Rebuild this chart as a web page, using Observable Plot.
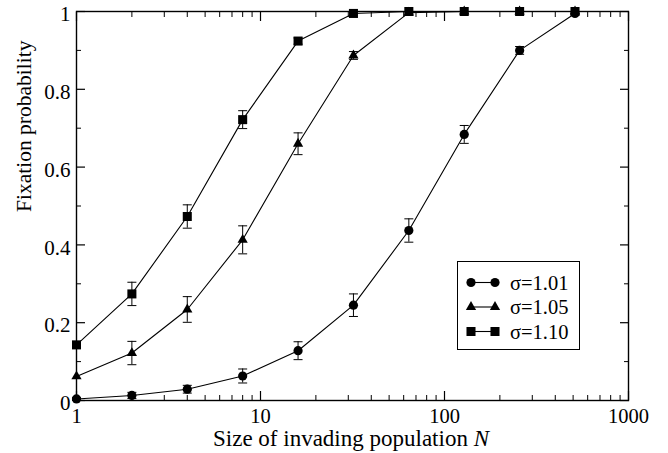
<!DOCTYPE html>
<html><head><meta charset="utf-8">
<script src="https://cdn.jsdelivr.net/npm/d3@7"></script>
<script src="https://cdn.jsdelivr.net/npm/@observablehq/plot@0.6"></script>
<style>
html,body{margin:0;padding:0;background:#fff;}
#wrap{position:relative;width:668px;height:453px;font-family:"Liberation Serif","Times New Roman",serif;color:#000;}
#xlabel{position:absolute;left:76px;width:550px;text-align:center;top:428px;font-size:23px;line-height:22px;white-space:nowrap;}
#legend{position:absolute;left:457px;top:261px;width:121px;height:87px;border:1px solid #000;background:#fff;}
#legend svg{display:block;}
</style></head><body>
<div id="wrap"><div id="xlabel">Size of invading population <i>N</i></div><div id="legend"></div></div>
<script>
// ---- data ----
const sizes = [1, 2, 4, 8, 16, 32, 64, 128, 256, 512];
const seriesNames = ["σ=1.01", "σ=1.05", "σ=1.10"];
const fix101 = [0.004, 0.013, 0.029, 0.063, 0.128, 0.245, 0.437, 0.684, 0.900, 0.995];
const err101 = [0.004, 0.008, 0.010, 0.018, 0.023, 0.029, 0.030, 0.023, 0.010, 0.000];
const fix105 = [0.062, 0.122, 0.234, 0.413, 0.660, 0.887, 0.997, 1.000, 1.000, 1.000];
const err105 = [0.000, 0.030, 0.033, 0.036, 0.028, 0.010, 0.000, 0.000, 0.000, 0.000];
const fix110 = [0.143, 0.274, 0.473, 0.722, 0.924, 0.995, 1.000, 1.000, 1.000, 1.000];
const err110 = [0.000, 0.030, 0.030, 0.023, 0.008, 0.000, 0.000, 0.000, 0.000, 0.000];
const xMajorTicks = [1, 10, 100, 1000];
const xTickLabels = ["1", "10", "100", "1000"];
const xMinorTicks = [2, 3, 4, 5, 6, 7, 8, 9, 20, 30, 40, 50, 60, 70, 80, 90, 200, 300, 400, 500, 600, 700, 800, 900];
const yMajorTicks = [0, 0.2, 0.4, 0.6, 0.8, 1];
const yTickLabels = ["0", "0.2", "0.4", "0.6", "0.8", "1"];
const yMinorTicks = [0.1, 0.3, 0.5, 0.7, 0.9];

// ---- build table ----
const allFix = [fix101, fix105, fix110];
const allErr = [err101, err105, err110];
const rows = [];
seriesNames.forEach((s, k) => sizes.forEach((n, i) => rows.push({series: s, N: n, p: allFix[k][i], err: allErr[k][i]})));
const errRows = rows.filter(d => d.err > 0);

const capSymbol = {draw(ctx) { ctx.moveTo(-4.5, 0); ctx.lineTo(4.5, 0); }};
const shapes = ["circle", "triangle", "square"];
const radii = [4.6, 3.8, 5.1];

const tickOnly = (anchor, size, sw) => ({anchor, tickSize: size, fill: "none", stroke: "#000", strokeWidth: sw, label: null});

const chart = Plot.plot({
  width: 668, height: 453,
  marginLeft: 76, marginRight: 40, marginTop: 11, marginBottom: 53,
  style: {fontFamily: '"Liberation Serif", "Times New Roman", serif', fontSize: "21px", background: "#fff", color: "#000", overflow: "visible"},
  x: {type: "log", domain: [1, 1000]},
  y: {domain: [0, 1]},
  marks: [
    Plot.frame({stroke: "#000", strokeWidth: 1.4}),
    // ticks (inward, mirrored)
    Plot.axisX(xMajorTicks, tickOnly("bottom", -9, 1.2)),
    Plot.axisX(xMajorTicks, tickOnly("top", -9, 1.2)),
    Plot.axisX(xMinorTicks, tickOnly("bottom", -5, 1)),
    Plot.axisX(xMinorTicks, tickOnly("top", -5, 1)),
    Plot.axisY(yMajorTicks, tickOnly("left", -9, 1.2)),
    Plot.axisY(yMajorTicks, tickOnly("right", -9, 1.2)),
    Plot.axisY(yMinorTicks, tickOnly("left", -5, 1)),
    Plot.axisY(yMinorTicks, tickOnly("right", -5, 1)),
    // tick labels
    Plot.axisX(xMajorTicks, {anchor: "bottom", tickSize: 0, tickPadding: 8, fontSize: 20.5, tickFormat: d => xTickLabels[xMajorTicks.indexOf(d)], label: null}),
    Plot.axisY(yMajorTicks, {anchor: "left", tickSize: 0, tickPadding: 6, dy: 3, fontSize: 21, tickFormat: d => yTickLabels[yMajorTicks.indexOf(d)], label: null}),
    // y title
    Plot.text(["Fixation probability"], {frameAnchor: "left", dx: -52, dy: 6, rotate: -90, text: d => d, fontSize: 21.5}),
    // error bars
    Plot.ruleX(errRows, {x: "N", y1: d => d.p - d.err, y2: d => d.p + d.err, stroke: "#000", strokeWidth: 1}),
    Plot.dot(errRows, {x: "N", y: d => d.p + d.err, symbol: capSymbol, stroke: "#000", strokeWidth: 1, r: 4}),
    Plot.dot(errRows, {x: "N", y: d => d.p - d.err, symbol: capSymbol, stroke: "#000", strokeWidth: 1, r: 4}),
    // lines
    Plot.line(rows, {x: "N", y: "p", z: "series", stroke: "#000", strokeWidth: 1.1}),
    // markers
    ...seriesNames.map((s, k) => Plot.dot(rows.filter(d => d.series === s), {x: "N", y: "p", symbol: shapes[k], r: radii[k], fill: "#000", stroke: "none"}))
  ]
});
document.getElementById("wrap").prepend(chart);
chart.style.position = "absolute"; chart.style.left = "0"; chart.style.top = "0";

// ---- legend ----
const lg = d3.select("#legend").append("svg").attr("width", 121).attr("height", 87);
seriesNames.forEach((s, k) => {
  const cy = 20.5 + k * 24.5;
  lg.append("line").attr("x1", 13).attr("x2", 37).attr("y1", cy).attr("y2", cy).attr("stroke", "#000").attr("stroke-width", 1.1);
  const size = Math.PI * radii[k] * radii[k];
  const sym = {circle: d3.symbolCircle, triangle: d3.symbolTriangle, square: d3.symbolSquare}[shapes[k]];
  [13, 37].forEach(cx => lg.append("path").attr("d", d3.symbol(sym, size)()).attr("transform", `translate(${cx},${cy})`).attr("fill", "#000"));
  lg.append("text").attr("x", 52).attr("y", cy + 7).attr("font-size", 20.5).attr("font-family", '"Liberation Serif", serif').text(s);
});
</script>
</body></html>
